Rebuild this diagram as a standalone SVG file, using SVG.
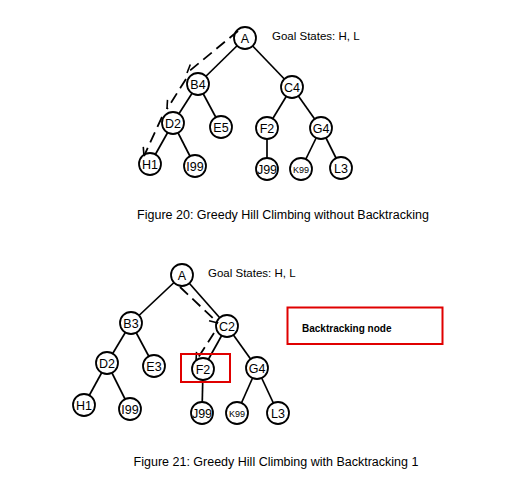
<svg xmlns="http://www.w3.org/2000/svg" width="508" height="501" viewBox="0 0 508 501">
<defs>
<style>
.edge{stroke:#000;stroke-width:1.7;fill:none}
.dash{stroke:#000;stroke-width:1.8;fill:none;stroke-dasharray:11 6}
.node circle{fill:#fff;stroke:#000;stroke-width:1.8}
.node text{font-family:"Liberation Sans",Arial,sans-serif;font-size:12.5px;text-anchor:middle;fill:#000}
.lbl{font-family:"Liberation Sans",Arial,sans-serif;font-size:11.5px;fill:#000}
.cap{font-family:"Liberation Sans",Arial,sans-serif;font-size:12.5px;fill:#000;text-anchor:middle}
.red{fill:none;stroke:#e00000;stroke-width:2}
</style>
<marker id="barb" viewBox="-10 -6 12 12" markerWidth="12" markerHeight="12" refX="0" refY="0" orient="auto" markerUnits="userSpaceOnUse">
<path d="M-8,4.5 L0,0" fill="none" stroke="#000" stroke-width="1.6"/>
</marker>
</defs>
<rect width="508" height="501" fill="#fff"/>
<g id="connectors">
<!-- top tree edges -->
<line class="edge" x1="245" y1="38" x2="198" y2="84"/>
<line class="edge" x1="245" y1="38" x2="292" y2="87"/>
<line class="edge" x1="198" y1="84" x2="173" y2="123"/>
<line class="edge" x1="198" y1="84" x2="221" y2="127"/>
<line class="edge" x1="292" y1="87" x2="267" y2="128"/>
<line class="edge" x1="292" y1="87" x2="321" y2="128"/>
<line class="edge" x1="173" y1="123" x2="150" y2="164"/>
<line class="edge" x1="173" y1="123" x2="195" y2="166"/>
<line class="edge" x1="267" y1="128" x2="267" y2="169"/>
<line class="edge" x1="321" y1="128" x2="301" y2="169"/>
<line class="edge" x1="321" y1="128" x2="341" y2="168"/>
<!-- bottom tree edges -->
<line class="edge" x1="182" y1="275" x2="131" y2="323"/>
<line class="edge" x1="182" y1="275" x2="227" y2="326"/>
<line class="edge" x1="131" y1="323" x2="107" y2="363"/>
<line class="edge" x1="131" y1="323" x2="154" y2="366"/>
<line class="edge" x1="227" y1="326" x2="203" y2="369"/>
<line class="edge" x1="227" y1="326" x2="257" y2="368"/>
<line class="edge" x1="107" y1="363" x2="84" y2="405"/>
<line class="edge" x1="107" y1="363" x2="130" y2="409"/>
<line class="edge" x1="203" y1="369" x2="202" y2="413"/>
<line class="edge" x1="257" y1="368" x2="237" y2="413"/>
<line class="edge" x1="257" y1="368" x2="278" y2="413"/>
</g>
<g id="top-A" class="node"><circle cx="245" cy="38" r="11"/><text x="245" y="42.5">A</text></g>
<g id="top-B4" class="node"><circle cx="198" cy="84" r="11"/><text x="198" y="88.5">B4</text></g>
<g id="top-C4" class="node"><circle cx="292" cy="87" r="11"/><text x="292" y="91.5">C4</text></g>
<g id="top-D2" class="node"><circle cx="173" cy="123" r="11"/><text x="173" y="127.5">D2</text></g>
<g id="top-E5" class="node"><circle cx="221" cy="127" r="11"/><text x="221" y="131.5">E5</text></g>
<g id="top-F2" class="node"><circle cx="267" cy="128" r="11"/><text x="267" y="132.5">F2</text></g>
<g id="top-G4" class="node"><circle cx="321" cy="128" r="11"/><text x="321" y="132.5">G4</text></g>
<g id="top-H1" class="node"><circle cx="150" cy="164" r="11"/><text x="150" y="168.5">H1</text></g>
<g id="top-I99" class="node"><circle cx="195" cy="166" r="11"/><text x="195" y="170.5">I99</text></g>
<g id="top-J99" class="node"><circle cx="267" cy="169" r="11"/><text x="267" y="173.5">J99</text></g>
<g id="top-K99" class="node"><circle cx="301" cy="169" r="11"/><text x="301" y="172.5" style="font-size:9px">K99</text></g>
<g id="top-L3" class="node"><circle cx="341" cy="168" r="11"/><text x="341" y="172.5">L3</text></g>
<text class="lbl" x="272" y="40">Goal States: H, L</text>
<text class="cap" x="283" y="219">Figure 20: Greedy Hill Climbing without Backtracking</text>

<g id="bot-A" class="node"><circle cx="182" cy="275" r="11"/><text x="182" y="279.5">A</text></g>
<g id="bot-B3" class="node"><circle cx="131" cy="323" r="11"/><text x="131" y="327.5">B3</text></g>
<g id="bot-C2" class="node"><circle cx="227" cy="326" r="11"/><text x="227" y="330.5">C2</text></g>
<g id="bot-D2" class="node"><circle cx="107" cy="363" r="11"/><text x="107" y="367.5">D2</text></g>
<g id="bot-E3" class="node"><circle cx="154" cy="366" r="11"/><text x="154" y="370.5">E3</text></g>
<g id="bot-F2" class="node"><circle cx="203" cy="369" r="11"/><text x="203" y="373.5">F2</text></g>
<g id="bot-G4" class="node"><circle cx="257" cy="368" r="11"/><text x="257" y="372.5">G4</text></g>
<g id="bot-H1" class="node"><circle cx="84" cy="405" r="11"/><text x="84" y="409.5">H1</text></g>
<g id="bot-I99" class="node"><circle cx="130" cy="409" r="11"/><text x="130" y="413.5">I99</text></g>
<g id="bot-J99" class="node"><circle cx="202" cy="413" r="11"/><text x="202" y="417.5">J99</text></g>
<g id="bot-K99" class="node"><circle cx="237" cy="413" r="11"/><text x="237" y="416.5" style="font-size:9px">K99</text></g>
<g id="bot-L3" class="node"><circle cx="278" cy="413" r="11"/><text x="278" y="417.5">L3</text></g>
<g id="search-paths">
<line class="dash" x1="238" y1="31" x2="187" y2="73" marker-end="url(#barb)"/>
<line class="dash" x1="186" y1="79" x2="167" y2="109" marker-end="url(#barb)"/>
<line class="dash" x1="162" y1="117" x2="144" y2="156" marker-end="url(#barb)"/>
<line class="dash" x1="180" y1="287" x2="218" y2="323" marker-end="url(#barb)"/>
<line class="dash" x1="214" y1="333" x2="196" y2="361" marker-end="url(#barb)"/>
</g>
<rect id="f2-highlight" class="red" x="181" y="354" width="49" height="28"/>
<g id="backtracking-legend">
<rect class="red" x="287.5" y="307.5" width="155" height="36.5"/>
<text x="302" y="332" style="font-family:'Liberation Sans',Arial,sans-serif;font-size:10px;font-weight:bold;fill:#000">Backtracking node</text>
</g>
<text class="lbl" x="208" y="277">Goal States: H, L</text>
<text class="cap" x="276" y="466">Figure 21: Greedy Hill Climbing with Backtracking 1</text>
</svg>
